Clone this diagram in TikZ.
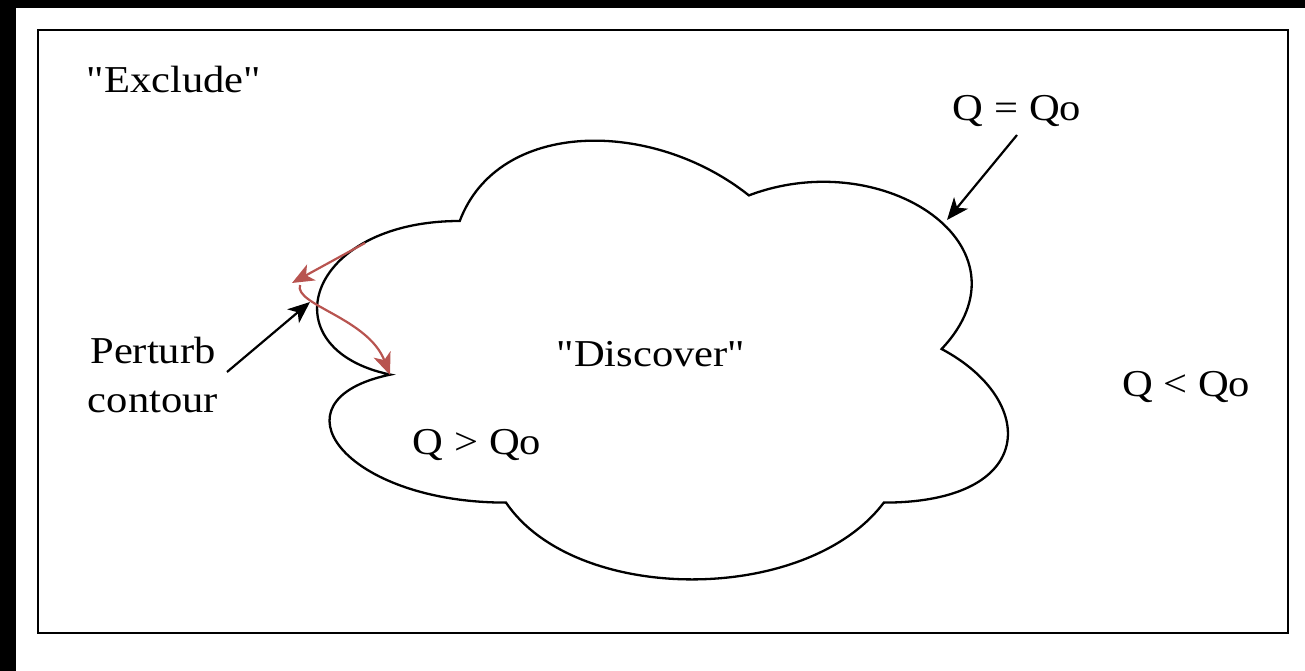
\documentclass[tikz,border=0pt]{standalone}
\usepackage{fontspec}
\newfontfamily\labelfont{Liberation Serif}[FakeStretch=1.12]
\usetikzlibrary{arrows.meta}
\definecolor{redline}{RGB}{184,84,80}
\begin{document}
\begin{tikzpicture}[x=1pt,y=-1pt,
  lbl/.style={inner sep=0pt, font=\labelfont\fontsize{38}{49}\selectfont},
  arr/.style={line width=2.2pt, -{Stealth[length=22pt,width=18pt,inset=6pt]}},
  redarr/.style={arr, draw=redline, fill=redline},
  cloudline/.style={line width=2.3pt}]
\useasboundingbox (0,0) rectangle (1305,671);
\fill[black] (0,0) rectangle (16,671);
\fill[black] (0,0) rectangle (1305,8);
\draw[line width=2.4pt] (38,30) rectangle (1288,633);
% cloud
\draw[cloudline] (459.75,221) .. controls (305.55,221) and (267,349) .. (390.36,374.6)
  .. controls (267,400.2) and (344.1,502.6) .. (506.01,502.6)
  .. controls (575.4,605) and (806.7,605) .. (883.8,502.6)
  .. controls (1038,502.6) and (1038,400.2) .. (941.6,349)
  .. controls (1038,246.6) and (883.8,144.2) .. (748.9,195.4)
  .. controls (652.5,118.6) and (498.3,118.6) .. (459.75,221) -- cycle;
% labels
\node[lbl, anchor=base] (exclude) at (174,93) {"Exclude"};
\node[lbl, anchor=base] (qeq) at (1017,121) {Q = Qo};
\node[lbl, anchor=base] (discover) at (651,366) {"Discover"};
\node[lbl, anchor=base] (qlt) at (1186,396) {Q < Qo};
\node[lbl, anchor=base] (qgt) at (477,454) {Q > Qo};
\node[lbl, anchor=base, align=center] (perturb) at (153,412) {Perturb\\contour};
% connectors
\coordinate (qeqfrom) at (1017,135);
\coordinate (qeqto) at (947,220);
\draw[arr] (qeqfrom) -- (qeqto);
\coordinate (pfrom) at (227,372);
\coordinate (pto) at (310,302);
\draw[arr] (pfrom) -- (pto);
\coordinate (r1from) at (365,243);
\coordinate (r1to) at (292,283);
\draw[redarr] (r1from) -- (r1to);
\coordinate (r2from) at (300,285);
\coordinate (r2to) at (390,375);
\draw[redarr, fill=none] (r2from) .. controls (294,305) and (368,318) .. (r2to);
\end{tikzpicture}
\end{document}
